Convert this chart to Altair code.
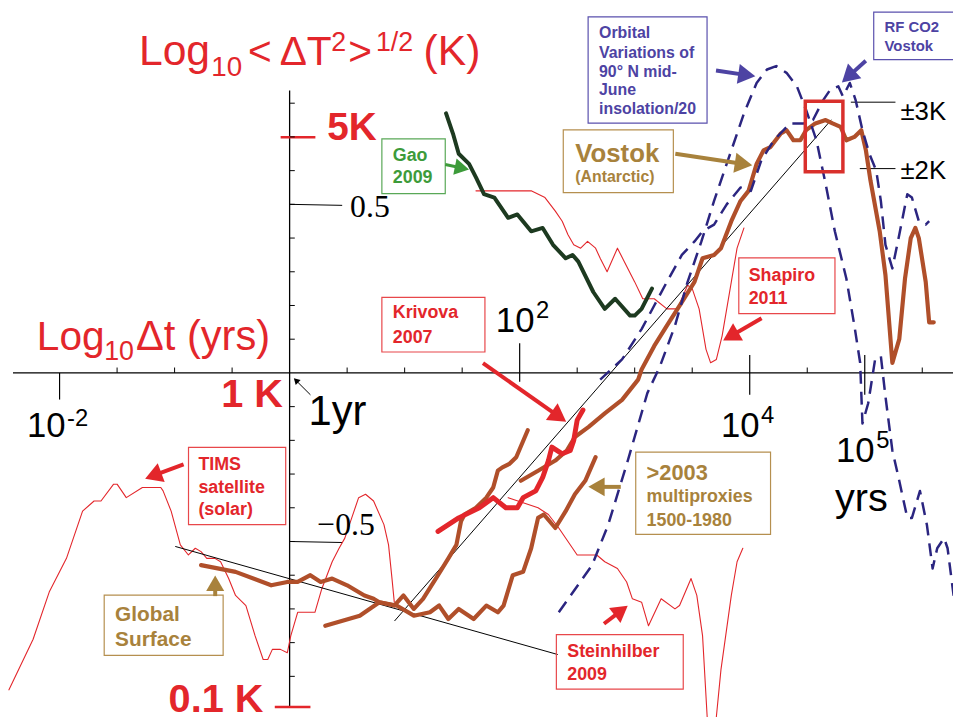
import math
import altair as alt
import pandas as pd

# ---------------- canvas / scales (log10 years vs log10 K) ----------------
W, H = 953, 712
XDOM = [-2.4483, 5.7672]
YDOM = [-1.0206, 1.0735]

RED = "#e3262b"
BROWN = "#b04f2a"
GREEN_DARK = "#1d3a20"
GREEN = "#3d9b3a"
TAN = "#a8823c"
NAVY = "#2b2580"
PURPLE = "#4d43a3"
BLACK = "#000000"

# ---------------- series (x = log10 dt [yr], y = log10 dT [K]) ----------------
TIMS = [(-2.44, -0.94), (-2.23, -0.79), (-2.09, -0.65), (-1.94, -0.55), (-1.80, -0.41), (-1.70, -0.38),
        (-1.64, -0.38), (-1.53, -0.33), (-1.50, -0.33), (-1.42, -0.37), (-1.28, -0.34), (-1.22, -0.34),
        (-1.12, -0.34), (-1.10, -0.35), (-1.03, -0.41), (-0.95, -0.51), (-0.88, -0.54), (-0.82, -0.52),
        (-0.77, -0.53), (-0.72, -0.55), (-0.65, -0.55), (-0.60, -0.56), (-0.53, -0.61), (-0.47, -0.66),
        (-0.38, -0.69), (-0.30, -0.78), (-0.23, -0.85), (-0.19, -0.85), (-0.15, -0.82), (-0.08, -0.82),
        (-0.02, -0.83), (0.01, -0.78), (0.07, -0.71), (0.17, -0.71), (0.22, -0.71), (0.28, -0.64),
        (0.37, -0.56), (0.43, -0.52), (0.48, -0.49), (0.54, -0.43), (0.60, -0.37), (0.66, -0.36),
        (0.73, -0.38), (0.82, -0.45), (0.86, -0.51), (0.89, -0.61), (0.91, -0.68)]

STEINHILBER = [(1.90, -0.37), (2.16, -0.40), (2.25, -0.42), (2.34, -0.46), (2.50, -0.54), (2.67, -0.54),
               (2.74, -0.56), (2.85, -0.58), (2.93, -0.62), (2.98, -0.67), (3.06, -0.68), (3.12, -0.75),
               (3.23, -0.67), (3.35, -0.70), (3.39, -0.69), (3.49, -0.61), (3.54, -0.66), (3.59, -0.78),
               (3.63, -1.02), (3.66, -1.15), (3.71, -1.02), (3.75, -0.88), (3.84, -0.66), (3.89, -0.56),
               (3.94, -0.52)]

SHAPIRO = [(1.62, 0.54), (1.91, 0.54), (2.10, 0.54), (2.22, 0.52), (2.31, 0.48), (2.37, 0.45), (2.42, 0.41),
           (2.47, 0.38), (2.53, 0.37), (2.59, 0.39), (2.66, 0.37), (2.70, 0.34), (2.76, 0.30), (2.85, 0.37),
           (2.91, 0.33), (3.00, 0.27), (3.07, 0.22), (3.17, 0.22), (3.28, 0.19), (3.37, 0.19), (3.46, 0.26),
           (3.50, 0.25), (3.56, 0.19), (3.62, 0.07), (3.66, 0.03), (3.71, 0.04), (3.76, 0.11), (3.84, 0.27),
           (3.89, 0.37), (3.95, 0.43)]

GAO = [(1.36, 0.77), (1.42, 0.71), (1.47, 0.65), (1.56, 0.62), (1.62, 0.58), (1.69, 0.53), (1.78, 0.52),
       (1.90, 0.46), (1.98, 0.47), (2.10, 0.42), (2.20, 0.43), (2.29, 0.38), (2.40, 0.34), (2.46, 0.35),
       (2.51, 0.33), (2.64, 0.24), (2.74, 0.19), (2.83, 0.22), (2.96, 0.17), (3.00, 0.17), (3.06, 0.19),
       (3.15, 0.25)]

KRIVOVA = [(1.29, -0.47), (1.47, -0.43), (1.65, -0.40), (1.77, -0.37), (1.88, -0.40), (1.98, -0.40),
           (2.03, -0.37), (2.14, -0.35), (2.20, -0.31), (2.25, -0.26), (2.28, -0.22), (2.37, -0.24),
           (2.44, -0.23), (2.47, -0.20), (2.50, -0.14), (2.55, -0.11)]

GLOBAL_SURFACE = [(-0.77, -0.57), (-0.47, -0.59), (-0.16, -0.63), (-0.02, -0.62), (0.07, -0.62), (0.18, -0.60),
                  (0.27, -0.62), (0.37, -0.61), (0.50, -0.63), (0.65, -0.66), (0.73, -0.67), (0.78, -0.68),
                  (0.91, -0.69), (0.99, -0.66), (1.08, -0.70), (1.16, -0.67), (1.29, -0.60), (1.38, -0.55),
                  (1.45, -0.51), (1.49, -0.44), (1.52, -0.42), (1.62, -0.40), (1.71, -0.37), (1.77, -0.34),
                  (1.81, -0.29), (1.85, -0.28), (1.91, -0.27), (1.97, -0.25), (2.07, -0.17)]

MULTIPROXIES = [(0.31, -0.75), (0.61, -0.72), (0.78, -0.68), (0.93, -0.69), (1.08, -0.72), (1.22, -0.71),
                (1.30, -0.69), (1.38, -0.73), (1.47, -0.70), (1.60, -0.73), (1.71, -0.69), (1.81, -0.71),
                (1.86, -0.69), (1.94, -0.60), (2.03, -0.59), (2.10, -0.52), (2.16, -0.43), (2.21, -0.42),
                (2.31, -0.46), (2.40, -0.41), (2.48, -0.36), (2.57, -0.32), (2.66, -0.25)]

VOSTOK = [(2.01, -0.32), (2.16, -0.29), (2.31, -0.26), (2.41, -0.23), (2.48, -0.19), (2.60, -0.16),
          (2.74, -0.12), (2.89, -0.08), (3.03, -0.02), (3.06, 0.01), (3.17, 0.08), (3.28, 0.14),
          (3.41, 0.21), (3.52, 0.27), (3.59, 0.34), (3.69, 0.35), (3.75, 0.37), (3.84, 0.45),
          (3.92, 0.51), (3.99, 0.54), (4.06, 0.62), (4.12, 0.66), (4.18, 0.67), (4.27, 0.71),
          (4.32, 0.72), (4.38, 0.69), (4.44, 0.69), (4.49, 0.72), (4.57, 0.74), (4.66, 0.75),
          (4.72, 0.74), (4.79, 0.73), (4.84, 0.69), (4.91, 0.70), (4.97, 0.72), (5.01, 0.66),
          (5.05, 0.57), (5.13, 0.42), (5.18, 0.29), (5.24, 0.03), (5.30, 0.10), (5.35, 0.28),
          (5.40, 0.40), (5.44, 0.43), (5.47, 0.40), (5.53, 0.27), (5.56, 0.15), (5.60, 0.15)]

ORBITAL = [(2.34, -0.71), (2.63, -0.57), (2.77, -0.45), (2.94, -0.26), (3.11, -0.06), (3.22, 0.02),
           (3.35, 0.14), (3.46, 0.27), (3.58, 0.39), (3.69, 0.51), (3.84, 0.66), (3.95, 0.77),
           (4.06, 0.86), (4.15, 0.90), (4.23, 0.91), (4.32, 0.89), (4.41, 0.85), (4.49, 0.78),
           (4.58, 0.69), (4.66, 0.56), (4.74, 0.42), (4.84, 0.28), (4.91, 0.14), (4.96, 0.03),
           (4.98, -0.15), (5.03, -0.09), (5.09, 0.04), (5.14, 0.05), (5.18, -0.07), (5.24, -0.23),
           (5.30, -0.32), (5.37, -0.43), (5.41, -0.43), (5.48, -0.35), (5.54, -0.45), (5.59, -0.58),
           (5.63, -0.52), (5.69, -0.49), (5.72, -0.52), (5.78, -0.68)]

RF_CO2 = [(2.70, -0.02), (2.89, 0.04), (3.06, 0.13), (3.17, 0.20), (3.28, 0.27), (3.41, 0.35),
          (3.52, 0.39), (3.59, 0.42), (3.69, 0.44), (3.80, 0.50), (3.92, 0.55), (4.01, 0.54),
          (4.10, 0.63), (4.21, 0.69), (4.35, 0.74), (4.47, 0.74), (4.55, 0.75), (4.64, 0.81),
          (4.70, 0.84), (4.77, 0.85), (4.81, 0.82), (4.87, 0.86), (4.92, 0.81), (4.98, 0.72),
          (5.04, 0.65), (5.10, 0.60), (5.14, 0.51), (5.18, 0.38), (5.24, 0.31), (5.30, 0.41),
          (5.37, 0.53), (5.41, 0.52), (5.47, 0.45), (5.53, 0.44), (5.56, 0.45)]

FIT_STEEP = [(0.914, -0.735), (4.707, 0.75)]
FIT_FLAT = [(-0.991, -0.515), (2.328, -0.835)]

# ---------------- axes (drawn as rules) ----------------
X_MINOR_TICKS = [-1.5, -1.0, -0.5, 0.5, 1.0, 1.5, 2.5, 3.0, 3.5, 4.5, 5.5]
X_MAJOR_TICKS = [(-2, 0.0, -0.079), (2, 0.088, -0.026), (4, 0.053, -0.065), (5, 0.053, -0.065)]
Y_MINOR_TICKS = [round(-0.9 + 0.1 * k, 2) for k in range(18)]

# rules: x, y, x2, y2, colour, width
RULES = [
    (-2.405, 0.0, 5.77, 0.0, BLACK, 1.3),          # x axis
    (0.0, -0.991, 0.0, 0.838, BLACK, 1.3),          # y axis
    (0.0, 0.5, 0.457, 0.497, BLACK, 1.0),           # 0.5 leader
    (0.0, -0.5, 0.457, -0.503, BLACK, 1.0),         # -0.5 leader
    (4.879, 0.803, 5.267, 0.803, BLACK, 1.0),       # ±3K leader
    (4.957, 0.606, 5.267, 0.606, BLACK, 1.0),       # ±2K leader
    (-0.078, 0.699, 0.224, 0.699, RED, 2.5),        # 5K tick
    (-0.129, -0.991, 0.181, -0.991, RED, 2.5),      # 0.1K tick
]

# ---------------- annotation boxes ----------------
BOXES = [  # x1, y1, x2, y2, colour, width
    (0.802, 0.694, 1.353, 0.532, "#59a857", 1.2),   # Gao
    (0.802, 0.224, 1.698, 0.062, "#e8474a", 1.2),   # Krivova
    (3.905, 0.341, 4.741, 0.176, "#e8474a", 1.2),   # Shapiro
    (2.379, 0.721, 3.336, 0.535, "#b58f4f", 1.2),   # Vostok
    (2.595, 1.056, 3.629, 0.741, "#5a50ad", 1.2),   # Orbital
    (5.078, 1.070, 5.776, 0.929, "#5a50ad", 1.2),   # RF CO2
    (-0.879, -0.221, -0.034, -0.450, "#e8474a", 1.2),  # TIMS
    (-1.612, -0.659, -0.578, -0.838, "#b58f4f", 1.2),  # Global
    (3.009, -0.235, 4.181, -0.479, "#b58f4f", 1.2),    # >2003
    (2.319, -0.776, 3.422, -0.938, "#e8474a", 1.2),    # Steinhilber
    (4.483, 0.806, 4.810, 0.597, "#d9302c", 3.5),      # peak rectangle
]

# ---------------- arrows: start -> tip ----------------
ARROWS = [  # x0, y0, x1, y1, colour, shaft width, head size
    (1.353, 0.618, 1.569, 0.603, GREEN, 3.0, 280),
    (1.681, 0.029, 2.414, -0.147, RED, 4.0, 420),
    (4.103, 0.162, 3.759, 0.094, RED, 4.0, 400),
    (3.353, 0.650, 4.034, 0.615, TAN, 4.0, 420),
    (3.707, 0.897, 4.060, 0.879, PURPLE, 4.0, 400),
    (5.009, 0.926, 4.793, 0.859, PURPLE, 4.0, 400),
    (-0.922, -0.271, -1.267, -0.315, RED, 4.0, 400),
    (-0.647, -0.662, -0.647, -0.597, TAN, 4.0, 330),
    (2.879, -0.338, 2.586, -0.338, TAN, 4.0, 360),
    (2.733, -0.744, 2.948, -0.688, RED, 4.0, 360),
    (0.181, -0.065, 0.034, -0.015, BLACK, 1.0, 50),
]

# ---------------- texts: text, x, y(baseline), size, colour ----------------
TEXT_SANS = [
    ("Log", -1.310, 0.912, 43, RED), ("10", -0.681, 0.882, 28, RED), ("<", -0.362, 0.912, 41, RED),
    ("ΔT", -0.086, 0.912, 41, RED),
    ("2", 0.362, 0.956, 27, RED), (">", 0.510, 0.912, 41, RED), ("1/2", 0.750, 0.956, 27, RED),
    ("(K)", 1.164, 0.912, 43, RED),
    ("Log", -2.198, 0.068, 41, RED), ("10", -1.612, 0.038, 27, RED), ("Δt (yrs)", -1.336, 0.068, 42, RED),
    ("1yr", 0.164, -0.153, 42, BLACK),
    ("10", -2.284, -0.191, 35, BLACK), ("-2", -1.935, -0.156, 24, BLACK),
    ("10", 1.793, 0.121, 35, BLACK), ("2", 2.142, 0.162, 24, BLACK),
    ("10", 3.750, -0.191, 35, BLACK), ("4", 4.099, -0.150, 24, BLACK),
    ("10", 4.750, -0.265, 35, BLACK), ("5", 5.099, -0.224, 24, BLACK),
    ("yrs", 4.741, -0.409, 40, BLACK),
    ("±3K", 5.310, 0.750, 26, BLACK), ("±2K", 5.310, 0.574, 26, BLACK),
]
TEXT_BOLD = [
    ("5K", 0.328, 0.691, 39, RED), ("1 K", -0.595, -0.100, 40, RED), ("0.1 K", -1.052, -1.006, 40, RED),
    ("Gao", 0.897, 0.629, 18, GREEN), ("2009", 0.897, 0.562, 18, GREEN),
    ("Krivova", 0.897, 0.162, 18, RED), ("2007", 0.897, 0.088, 18, RED),
    ("Shapiro", 3.991, 0.274, 18, RED), ("2011", 3.991, 0.203, 18, RED),
    ("Vostok", 2.483, 0.626, 26, TAN), ("(Antarctic)", 2.483, 0.565, 16, TAN),
    ("Orbital", 2.690, 0.994, 16, PURPLE), ("Variations of", 2.690, 0.935, 16, PURPLE),
    ("90° N mid-", 2.690, 0.879, 16, PURPLE), ("June", 2.690, 0.824, 16, PURPLE),
    ("insolation/20", 2.690, 0.768, 16, PURPLE),
    ("RF CO2", 5.172, 1.012, 15, PURPLE), ("Vostok", 5.172, 0.956, 15, PURPLE),
    ("TIMS", -0.793, -0.288, 18, RED), ("satellite", -0.793, -0.356, 18, RED), ("(solar)", -0.793, -0.421, 18, RED),
    ("Global", -1.517, -0.735, 21, TAN), ("Surface", -1.517, -0.809, 21, TAN),
    (">2003", 3.103, -0.318, 22, TAN), ("multiproxies", 3.103, -0.382, 18, TAN), ("1500-1980", 3.103, -0.453, 18, TAN),
    ("Steinhilber", 2.414, -0.844, 18, RED), ("2009", 2.414, -0.912, 18, RED),
]
TEXT_SERIF = [
    ("0.5", 0.526, 0.462, 32, BLACK), ("\u22120.5", 0.241, -0.482, 32, BLACK),
]

# ---------------- build ----------------
xsc = alt.Scale(domain=XDOM, nice=False, zero=False)
ysc = alt.Scale(domain=YDOM, nice=False, zero=False)
X = alt.X("x:Q", scale=xsc, axis=None)
Y = alt.Y("y:Q", scale=ysc, axis=None)
KX = W / (XDOM[1] - XDOM[0])
KY = H / (YDOM[1] - YDOM[0])


def series_df(named):
    rows = []
    for name, pts in named.items():
        for i, (x, y) in enumerate(pts):
            rows.append({"series": name, "i": i, "x": x, "y": y})
    return pd.DataFrame(rows)


def line_layer(named, color, width, dash=None, cap="round"):
    kw = dict(color=color, strokeWidth=width, strokeJoin="round", strokeCap=cap, clip=True)
    if dash:
        kw["strokeDash"] = dash
    return alt.Chart(series_df(named)).mark_line(**kw).encode(
        x=X, y=Y, detail="series:N", order="i:Q")


def rule_layer(rows):
    df = pd.DataFrame(rows, columns=["x", "y", "x2", "y2", "c", "w"])
    return alt.Chart(df).mark_rule().encode(
        x=X, y=Y, x2="x2:Q", y2="y2:Q",
        color=alt.Color("c:N", scale=None), strokeWidth=alt.StrokeWidth("w:Q", scale=None))


def text_layer(rows, font, weight):
    df = pd.DataFrame(rows, columns=["t", "x", "y", "s", "c"])
    return alt.Chart(df).mark_text(align="left", baseline="alphabetic", font=font, fontWeight=weight).encode(
        x=X, y=Y, text="t:N", size=alt.Size("s:Q", scale=None), color=alt.Color("c:N", scale=None))


# axis ticks
tick_rows = []
for t in X_MINOR_TICKS:
    tick_rows.append((t, 0.0, t, 0.016, BLACK, 1.0))
for t, a, b in X_MAJOR_TICKS:
    tick_rows.append((t, a, t, b, BLACK, 1.2))
for t in Y_MINOR_TICKS:
    if abs(t) > 1e-9:
        tick_rows.append((0.0, t, 0.045, t, BLACK, 1.0))

# arrows
shaft_rows, head_rows = [], []
for x0, y0, x1, y1, c, w, s in ARROWS:
    dxp = (x1 - x0) * KX
    dyp = -(y1 - y0) * KY
    L = math.hypot(dxp, dyp)
    ux, uy = dxp / L, dyp / L
    r = math.sqrt(s) / 2.0
    cx = x1 - r * ux / KX
    cy = y1 + r * uy / KY
    ang = math.degrees(math.atan2(dyp, dxp)) % 360
    shaft_rows.append((x0, y0, cx, cy, c, w))
    head_rows.append({"x": cx, "y": cy, "a": ang, "s": s, "c": c})

heads = alt.Chart(pd.DataFrame(head_rows)).mark_point(
    shape="triangle-right", filled=True, opacity=1, strokeWidth=0).encode(
    x=X, y=Y, angle=alt.Angle("a:Q", scale=None), size=alt.Size("s:Q", scale=None),
    color=alt.Color("c:N", scale=None))

boxes = alt.Chart(pd.DataFrame(BOXES, columns=["x", "y", "x2", "y2", "c", "w"])).mark_rect(
    fillOpacity=0).encode(
    x=X, y=Y, x2="x2:Q", y2="y2:Q",
    stroke=alt.Stroke("c:N", scale=None), strokeWidth=alt.StrokeWidth("w:Q", scale=None))

layers = [
    rule_layer(RULES),
    rule_layer(tick_rows),
    line_layer({"tims": TIMS, "stein": STEINHILBER, "shapiro": SHAPIRO}, RED, 1.1),
    line_layer({"fa": FIT_STEEP, "fb": FIT_FLAT}, BLACK, 1.0),
    line_layer({"global": GLOBAL_SURFACE, "multi": MULTIPROXIES, "vostok": VOSTOK}, BROWN, 4.2),
    line_layer({"krivova": KRIVOVA}, RED, 5.0),
    line_layer({"gao": GAO}, GREEN_DARK, 4.0),
    line_layer({"orbital": ORBITAL, "rfco2": RF_CO2}, NAVY, 2.5, dash=[13, 8], cap="butt"),
    boxes,
    rule_layer(shaft_rows),
    heads,
    text_layer(TEXT_SANS, "Liberation Sans", "normal"),
    text_layer(TEXT_BOLD, "Liberation Sans", "bold"),
    text_layer(TEXT_SERIF, "Liberation Serif", "normal"),
]

chart = alt.layer(*layers).properties(
    width=W, height=H, padding=0,
    autosize=alt.AutoSizeParams(type="none"),
    background="white",
).configure_view(stroke=None)

chart.save("out.html", embed_options={"renderer": "svg", "actions": False})
